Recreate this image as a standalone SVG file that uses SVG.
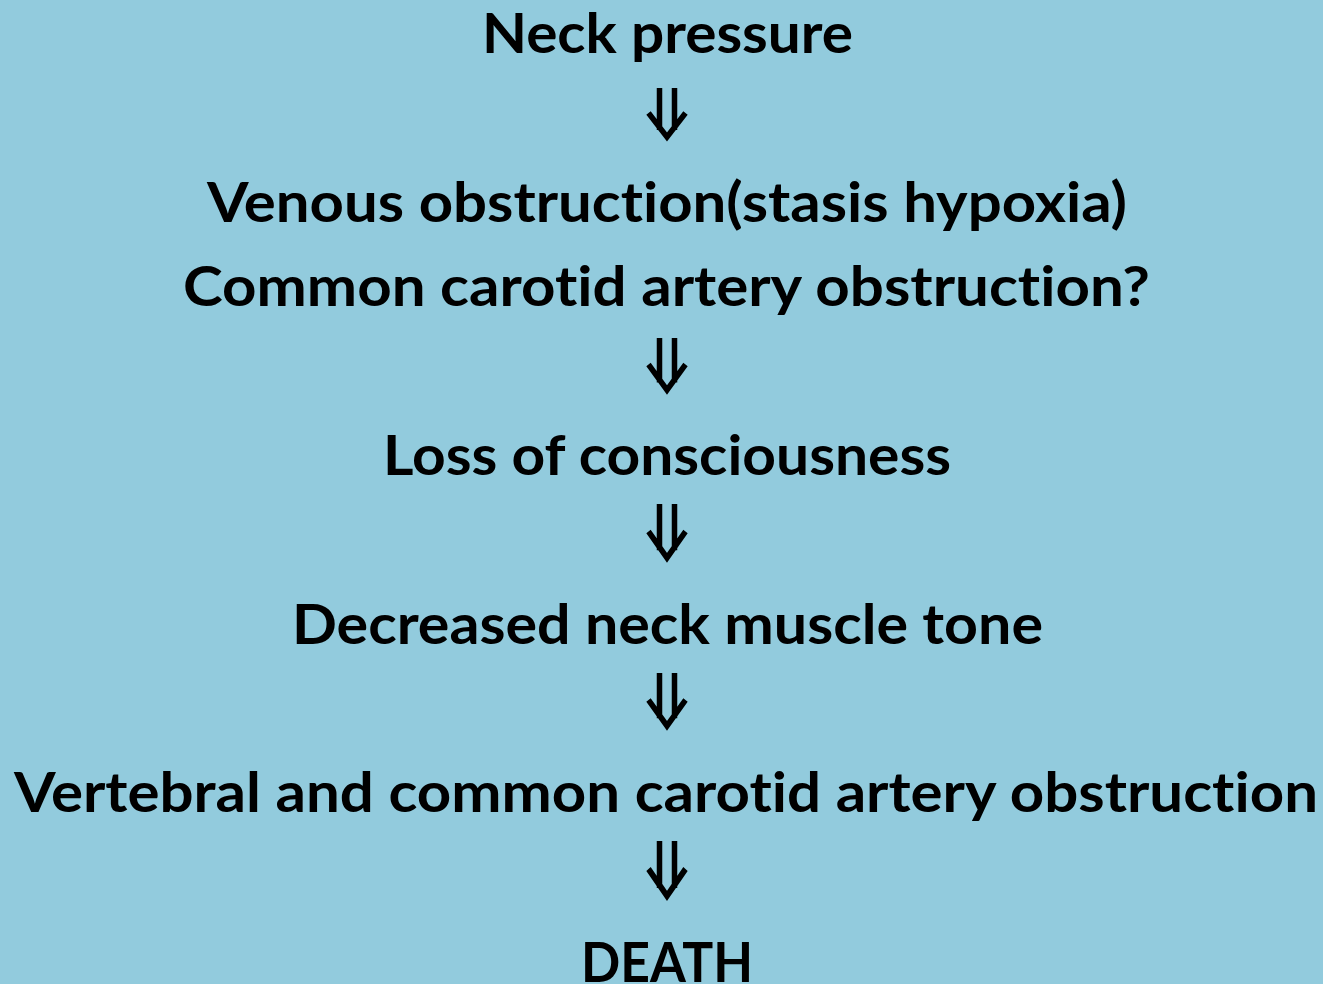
<svg xmlns="http://www.w3.org/2000/svg" width="1323" height="984" viewBox="0 0 1323 984">
<style>
.t{font-family:"Lato","Liberation Sans",sans-serif;font-weight:bold;font-size:55px;fill:#000;text-anchor:middle;font-variant-ligatures:none;font-feature-settings:"liga" 0,"clig" 0}
.a{fill:none;stroke:#000;stroke-width:5.5;stroke-linejoin:miter}
</style>
<defs>
<g id="arr">
<path class="a" d="M-7.5,0 V42 M7.5,0 V42 M-18.5,25 L0,49 L18.5,25"/>
</g>
</defs>
<rect width="1323" height="984" fill="#92CBDD"/>
<g id="connectors">
<use href="#arr" transform="translate(667,88)"/>
<use href="#arr" transform="translate(667,338) scale(1,1.06)"/>
<use href="#arr" transform="translate(667,504) scale(1,1.1)"/>
<use href="#arr" transform="translate(667,673) scale(1,1.08)"/>
<use href="#arr" transform="translate(667,841) scale(1,1.12)"/>
</g>
<g id="n1"><text class="t" x="667.5" y="53" textLength="371" lengthAdjust="spacingAndGlyphs">Neck pressure</text></g>
<g id="n2"><text class="t" x="667" y="222" textLength="920" lengthAdjust="spacingAndGlyphs">Venous obstruction(stasis hypoxia)</text>
<text class="t" x="666.5" y="306" textLength="967" lengthAdjust="spacingAndGlyphs">Common carotid artery obstruction?</text></g>
<g id="n3"><text class="t" x="667" y="475" textLength="568" lengthAdjust="spacingAndGlyphs">Loss of consciousness</text></g>
<g id="n4"><text class="t" x="667.5" y="644" textLength="751" lengthAdjust="spacingAndGlyphs">Decreased neck muscle tone</text></g>
<g id="n5"><text class="t" x="666" y="812" textLength="1304" lengthAdjust="spacingAndGlyphs">Vertebral and common carotid artery obstruction</text></g>
<g id="n6"><text class="t" x="667" y="982" textLength="172" lengthAdjust="spacingAndGlyphs">DEATH</text></g>
</svg>
